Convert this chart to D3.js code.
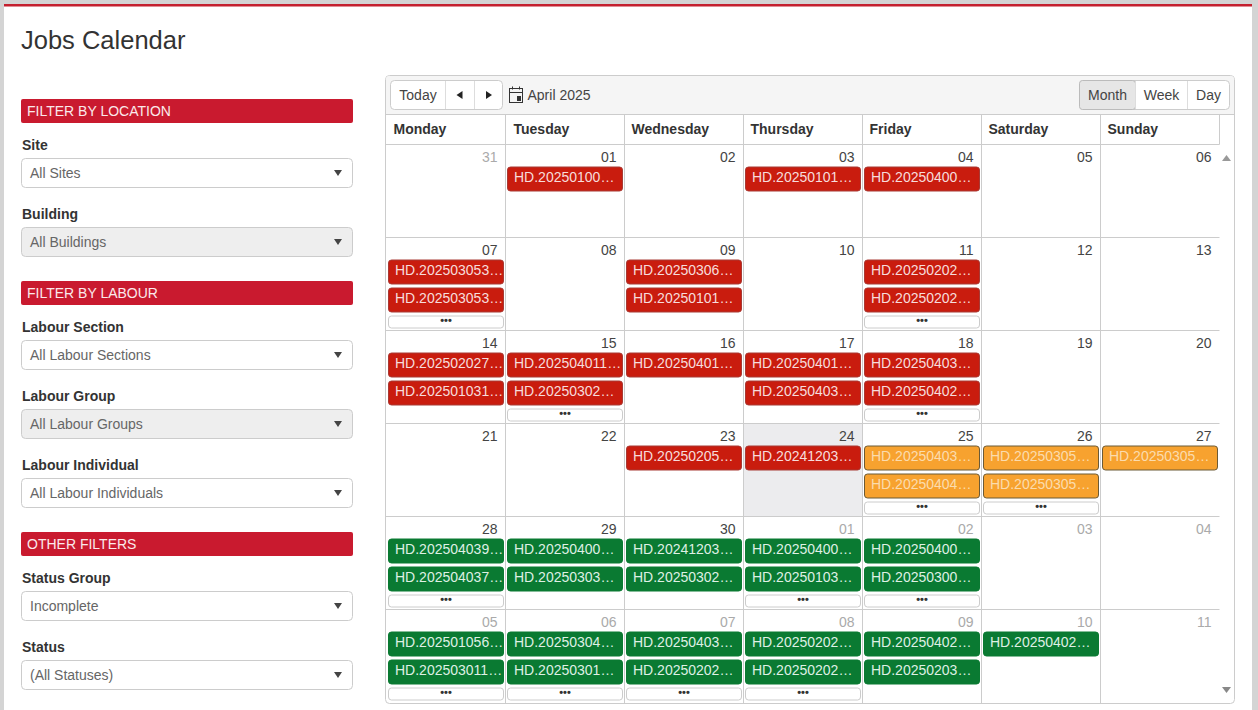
<!DOCTYPE html>
<html>
<head>
<meta charset="utf-8">
<title>Jobs Calendar</title>
<script src="https://cdn.jsdelivr.net/npm/d3@7"></script>
<style>
html, body { margin: 0; padding: 0; background: #fff; overflow: hidden; }
svg { display: block; font-family: "Liberation Sans", Arial, sans-serif; }
</style>
</head>
<body>
<div id="chart"></div>
<script>
// calendar content
const weekDays = ["Monday", "Tuesday", "Wednesday", "Thursday", "Friday", "Saturday", "Sunday"];
const weekIds = ["w1", "w2", "w3", "w4", "w5", "w6"];
const dayLabels = [
  ["31", "01", "02", "03", "04", "05", "06"],
  ["07", "08", "09", "10", "11", "12", "13"],
  ["14", "15", "16", "17", "18", "19", "20"],
  ["21", "22", "23", "24", "25", "26", "27"],
  ["28", "29", "30", "01", "02", "03", "04"],
  ["05", "06", "07", "08", "09", "10", "11"]
];
// 1 = day belongs to April
const inMonth = [
  [0, 1, 1, 1, 1, 1, 1],
  [1, 1, 1, 1, 1, 1, 1],
  [1, 1, 1, 1, 1, 1, 1],
  [1, 1, 1, 1, 1, 1, 1],
  [1, 1, 1, 0, 0, 0, 0],
  [0, 0, 0, 0, 0, 0, 0]
];
const jobs = [
  [[], ["HD.20250100"], [], ["HD.20250101"], ["HD.20250400"], [], []],
  [["HD.202503053", "HD.202503053"], [], ["HD.20250306", "HD.20250101"], [], ["HD.20250202", "HD.20250202"], [], []],
  [["HD.202502027", "HD.202501031"], ["HD.202504011", "HD.20250302"], ["HD.20250401"], ["HD.20250401", "HD.20250403"], ["HD.20250403", "HD.20250402"], [], []],
  [[], [], ["HD.20250205"], ["HD.20241203"], ["HD.20250403", "HD.20250404"], ["HD.20250305", "HD.20250305"], ["HD.20250305"]],
  [["HD.202504039", "HD.202504037"], ["HD.20250400", "HD.20250303"], ["HD.20241203", "HD.20250302"], ["HD.20250400", "HD.20250103"], ["HD.20250400", "HD.20250300"], [], []],
  [["HD.202501056", "HD.202503011"], ["HD.20250304", "HD.20250301"], ["HD.20250403", "HD.20250202"], ["HD.20250202", "HD.20250202"], ["HD.20250402", "HD.20250203"], ["HD.20250402"], []]
];
const jobStatus = [
  ["", "late", "", "late", "late", "", ""],
  ["late", "", "late", "", "late", "", ""],
  ["late", "late", "late", "late", "late", "", ""],
  ["", "", "late", "late", "soon", "soon", "soon"],
  ["ok", "ok", "ok", "ok", "ok", "", ""],
  ["ok", "ok", "ok", "ok", "ok", "ok", ""]
];
// 1 = cell has the "..." button
const hasMore = [
  [0, 0, 0, 0, 0, 0, 0],
  [1, 0, 0, 0, 1, 0, 0],
  [0, 1, 0, 0, 1, 0, 0],
  [0, 0, 0, 0, 1, 1, 0],
  [1, 0, 0, 1, 1, 0, 0],
  [1, 1, 1, 1, 0, 0, 0]
];

// side filters
const filterHeads = ["FILTER BY LOCATION", "FILTER BY LABOUR", "OTHER FILTERS"];
const filterHeadY = [99, 281, 532];
const filterLabels = ["Site", "Building", "Labour Section", "Labour Group", "Labour Individual", "Status Group", "Status"];
const filterValues = ["All Sites", "All Buildings", "All Labour Sections", "All Labour Groups", "All Labour Individuals", "Incomplete", "(All Statuses)"];
const filterY = [158, 227, 340, 409, 478, 591, 660];
const filterOff = [0, 1, 0, 1, 0, 0, 0];

const W = 1258, H = 710;
const svg = d3.select("#chart").append("svg").attr("width", W).attr("height", H);

// page frame
svg.append("rect").attr("width", W).attr("height", H).attr("fill", "#d4d4d4");
svg.append("rect").attr("x", 4).attr("y", 4).attr("width", 1248).attr("height", H).attr("fill", "#fff");
svg.append("rect").attr("x", 4).attr("y", 4).attr("width", 1248).attr("height", 2.5).attr("fill", "#c4202f");
svg.append("text").attr("x", 21).attr("y", 49).attr("font-size", 25.5).attr("fill", "#333").text("Jobs Calendar");

// --- left column ---
const side = svg.append("g");
side.selectAll("rect.head").data(filterHeads).enter().append("rect")
  .attr("class", "head")
  .attr("x", 21).attr("y", (d, i) => filterHeadY[i])
  .attr("width", 332).attr("height", 24).attr("rx", 2)
  .attr("fill", "#c91a2f");
side.selectAll("text.head").data(filterHeads).enter().append("text")
  .attr("class", "head")
  .attr("x", 27).attr("y", (d, i) => filterHeadY[i] + 17)
  .attr("font-size", 14).attr("fill", "#fbe9eb")
  .text(d => d);

const filt = side.selectAll("g.filter").data(filterLabels).enter().append("g")
  .attr("class", "filter")
  .attr("transform", (d, i) => `translate(21,${filterY[i]})`);
filt.append("text").attr("x", 1).attr("y", -8)
  .attr("font-size", 14).attr("font-weight", "bold").attr("fill", "#333")
  .text(d => d);
filt.append("rect").attr("x", 0.5).attr("y", 0.5).attr("width", 331).attr("height", 29).attr("rx", 4)
  .attr("fill", (d, i) => filterOff[i] ? "#eee" : "#fff").attr("stroke", "#ccc");
filt.append("text").attr("x", 9).attr("y", 20)
  .attr("font-size", 14).attr("fill", "#666")
  .text((d, i) => filterValues[i]);
filt.append("path").attr("d", "M313,12h8l-4,6z").attr("fill", "#444");

// --- calendar ---
const x = d3.scaleBand().domain(d3.range(7)).range([386.5, 1219.5]);
const y = d3.scaleBand().domain(weekIds).range([144.5, 702.5]);
const statusColor = d3.scaleOrdinal().domain(["late", "soon", "ok"]).range(["#c91c0e", "#f7a22f", "#0a7a32"]);
const statusBorder = d3.scaleOrdinal().domain(["late", "soon", "ok"]).range(["#a83a34", "#6b5a36", "#0a7a32"]);
const statusText = d3.scaleOrdinal().domain(["late", "soon", "ok"]).range(["#f7dcdc", "#fbdcae", "#dff0e4"]);
const eventH = 24, eventGap = 28;

const cal = svg.append("g");
// outer box
cal.append("rect").attr("x", 385.5).attr("y", 75.5).attr("width", 849).attr("height", 628).attr("rx", 4)
  .attr("fill", "#fff").attr("stroke", "#ccc");
// toolbar
cal.append("path").attr("d", "M386,114.5V79a3,3 0 0 1 3,-3H1231a3,3 0 0 1 3,3V114.5Z").attr("fill", "#f5f5f5");
cal.append("line").attr("x1", 386).attr("x2", 1234).attr("y1", 114.5).attr("y2", 114.5).attr("stroke", "#ccc");

// today background
cal.append("rect").attr("x", x(3)).attr("y", y("w4")).attr("width", x.bandwidth()).attr("height", y.bandwidth()).attr("fill", "#ececee");

// grid
cal.selectAll("line.v").data(d3.range(1, 8)).enter().append("line")
  .attr("class", "v")
  .attr("x1", d => x(0) + d * x.step()).attr("x2", d => x(0) + d * x.step())
  .attr("y1", 114.5).attr("y2", d => d === 7 ? 144.5 : 703).attr("stroke", "#ccc");
cal.selectAll("line.h").data(weekIds).enter().append("line")
  .attr("class", "h")
  .attr("x1", 386).attr("x2", 1219.5)
  .attr("y1", d => y(d)).attr("y2", d => y(d)).attr("stroke", "#ccc");

// weekday header
cal.selectAll("text.wd").data(weekDays).enter().append("text")
  .attr("class", "wd")
  .attr("x", (d, i) => x(i) + (i === 1 ? 8 : 7)).attr("y", 134)
  .attr("font-size", 14).attr("font-weight", "bold").attr("fill", "#333")
  .text(d => d);

// cells
weekIds.forEach((w, r) => {
  d3.range(7).forEach(c => {
    const cell = cal.append("g").attr("transform", `translate(${x(c)},${y(w)})`);
    cell.append("text").attr("x", x.bandwidth() - 8).attr("y", 17.5)
      .attr("text-anchor", "end").attr("font-size", 14)
      .attr("fill", inMonth[r][c] ? "#444" : "#aaa")
      .text(dayLabels[r][c]);

    const ev = cell.selectAll("g.ev").data(jobs[r][c]).enter().append("g")
      .attr("class", "ev")
      .attr("transform", (d, i) => `translate(2,${22.5 + i * eventGap})`);
    ev.append("rect").attr("width", 115).attr("height", eventH).attr("rx", 3)
      .attr("fill", statusColor(jobStatus[r][c])).attr("stroke", statusBorder(jobStatus[r][c]));
    ev.append("text").attr("x", 6.5).attr("y", 14.5)
      .attr("font-size", 14).attr("fill", statusText(jobStatus[r][c]))
      .text(d => d + "\u2026");

    if (hasMore[r][c]) {
      const more = cell.append("g").attr("transform", "translate(2,78.5)");
      more.append("rect").attr("width", 115).attr("height", 12).attr("rx", 3).attr("fill", "#fff").attr("stroke", "#ccc");
      more.append("text").attr("x", 57.5).attr("y", 7.5).attr("text-anchor", "middle")
        .attr("font-size", 11).attr("font-weight", "bold").attr("fill", "#333").text("\u2022\u2022\u2022");
    }
  });
});

// scroll arrows
cal.append("path").attr("d", "M1222,161l4.5,-6l4.5,6z").attr("fill", "#999");
cal.append("path").attr("d", "M1222,687l4.5,6l4.5,-6z").attr("fill", "#888");

// toolbar buttons
function btnGroup(items, x0, active) {
  const g = cal.append("g");
  const total = d3.sum(items, d => d.w);
  let cx = x0;
  g.append("rect").attr("x", x0 + 0.5).attr("y", 80.5).attr("width", total).attr("height", 29).attr("rx", 4)
    .attr("fill", "#fff").attr("stroke", "#ccc");
  items.forEach((it, i) => {
    if (i === active) {
      g.append("rect").attr("x", cx + 0.5).attr("y", 80.5).attr("width", it.w).attr("height", 29).attr("rx", 3)
        .attr("fill", "#e6e6e6").attr("stroke", "#bbb");
    }
    if (i > 0) g.append("line").attr("x1", cx + 0.5).attr("x2", cx + 0.5).attr("y1", 81).attr("y2", 109).attr("stroke", "#ddd");
    if (it.t) {
      g.append("text").attr("x", cx + it.w / 2 + 0.5).attr("y", 100).attr("text-anchor", "middle")
        .attr("font-size", 14).attr("fill", "#444").text(it.t);
    } else {
      g.append("path").attr("d", it.d).attr("transform", `translate(${cx + it.w / 2},95)`).attr("fill", "#222");
    }
    cx += it.w;
  });
}
btnGroup([{ t: "Today", w: 55 }, { d: "M3,-4v8l-6,-4z", w: 29 }, { d: "M-2,-4v8l6,-4z", w: 28 }], 390, -1);
btnGroup([{ t: "Month", w: 56 }, { t: "Week", w: 52 }, { t: "Day", w: 42 }], 1079, 0);

// date label + calendar icon
const icon = cal.append("g").attr("transform", "translate(508,86)");
icon.append("rect").attr("x", 1.5).attr("y", 2.5).attr("width", 13).attr("height", 14).attr("fill", "none").attr("stroke", "#333");
icon.append("line").attr("x1", 1.5).attr("x2", 14.5).attr("y1", 6.5).attr("y2", 6.5).attr("stroke", "#333");
icon.append("line").attr("x1", 4.5).attr("x2", 4.5).attr("y1", 0.5).attr("y2", 3.5).attr("stroke", "#333");
icon.append("line").attr("x1", 11.5).attr("x2", 11.5).attr("y1", 0.5).attr("y2", 3.5).attr("stroke", "#333");
icon.append("rect").attr("x", 9).attr("y", 10).attr("width", 4).attr("height", 5).attr("fill", "#333");
cal.append("text").attr("x", 527.5).attr("y", 100).attr("font-size", 14).attr("fill", "#444").text("April 2025");
</script>
</body>
</html>
